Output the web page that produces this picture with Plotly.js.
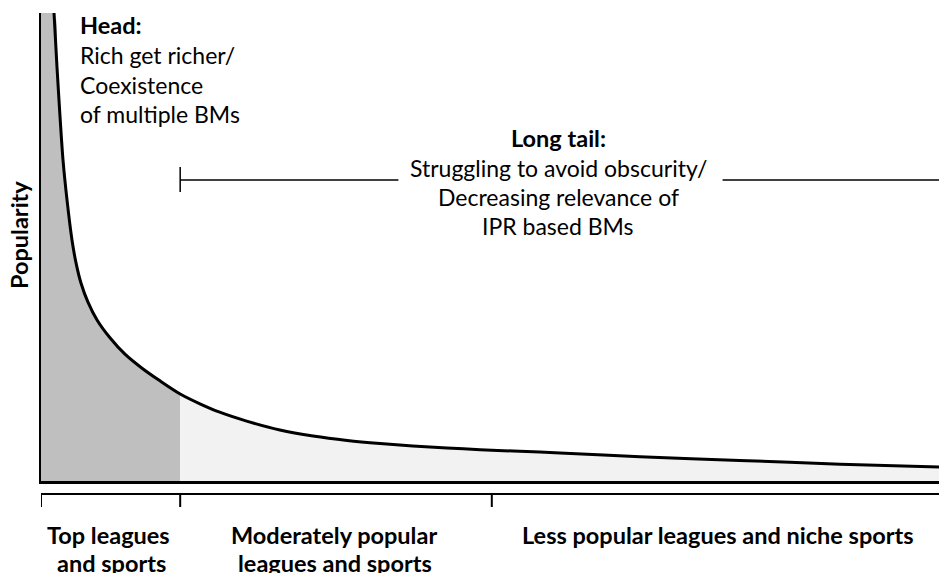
<!DOCTYPE html>
<html><head><meta charset="utf-8">
<script src="https://cdn.plot.ly/plotly-3.0.1.min.js"></script>
<style>html,body{margin:0;padding:0;background:#fff;}#chart{width:939px;height:573px;}</style>
</head><body><div id="chart"></div>
<script>
// Long-tail popularity curve: share of leagues/sports ranked (x, 0-100) vs popularity (y, 0-100)
const rankX = [1.45, 1.78, 2.12, 2.45, 2.90, 3.45, 3.90, 4.45, 5.23, 6.24, 7.68, 9.35, 11.25, 13.25, 15.5, 17.7, 19.9, 22.9, 26.6, 30.3, 34.1, 37.75, 41.4, 45.2, 48.9, 52.6, 57.8, 66.7, 77.8, 89.0, 100];
const popularityY = [100, 88.5, 77.8, 68.6, 60.0, 51.5, 46.6, 42.3, 38.2, 34.4, 30.6, 27.1, 24.1, 21.4, 18.6, 16.5, 14.7, 12.8, 10.9, 9.6, 8.65, 8.0, 7.5, 7.05, 6.7, 6.4, 6.0, 5.2, 4.4, 3.6, 3.0];
const headEnd = 15.5;   // head / long tail boundary
const midEnd = 50.2;    // moderately popular / less popular boundary
const segmentLabels = [["Top leagues", "and sports"], ["Moderately popular", "leagues and sports"], ["Less popular leagues and niche sports"]];
const headText = ["Head:", "Rich get richer/", "Coexistence", "of multiple BMs"];
const tailText = ["Long tail:", "Struggling to avoid obscurity/", "Decreasing relevance of", "IPR based BMs"];
const yTitle = "Popularity";

const FONT = "Lato, 'Open Sans', sans-serif";
const FS = 23;
const FSB = 23.5;

// split into head and tail parts
const headX = [0], headY = [popularityY[0]];
const tailX = [], tailY = [];
rankX.forEach((x, i) => {
  if (x <= headEnd) { headX.push(x); headY.push(popularityY[i]); }
  if (x >= headEnd) { tailX.push(x); tailY.push(popularityY[i]); }
});

const traces = [
  {x: headX, y: headY, type: 'scatter', mode: 'lines', fill: 'tozeroy', fillcolor: '#bfbfbf',
   line: {width: 0, shape: 'spline', smoothing: 0.8, color: 'rgba(0,0,0,0)'}, hoverinfo: 'skip'},
  {x: tailX, y: tailY, type: 'scatter', mode: 'lines', fill: 'tozeroy', fillcolor: '#f2f2f2',
   line: {width: 0, shape: 'spline', smoothing: 0.8, color: 'rgba(0,0,0,0)'}, hoverinfo: 'skip'},
  {x: rankX, y: popularityY, type: 'scatter', mode: 'lines',
   line: {width: 3, color: '#000', shape: 'spline', smoothing: 0.8}, hoverinfo: 'skip'}
];

// pixel helpers (plot area: x 41..939, y 13..481)
const L = 41, R = 939, T = 13, B = 481;
const px = v => (v - L) / (R - L);
const py = v => (B - v) / (B - T);

const ann = [];
function addText(text, x, y, bold, opts) {
  ann.push(Object.assign({text: bold ? '<b>' + text + '</b>' : text, xref: 'paper', yref: 'paper', x: px(x), y: py(y),
    showarrow: false, xanchor: 'center', yanchor: 'middle',
    font: {family: FONT, size: bold ? FSB : FS, color: '#000'}}, opts || {}));
}
// Head block
const headYs = [25, 55, 85, 114];
headText.forEach((t, i) => addText(t, 78, headYs[i], i === 0, {xanchor: 'left'}));
// Long tail block
const tailYs = [138, 168, 197, 226];
tailText.forEach((t, i) => addText(t, 558, tailYs[i], i === 0));
// Segment labels
const segCx = [[108, 111], [334, 335], [718]];
const segYs = [535, 563];
segmentLabels.forEach((lines, j) => lines.forEach((t, i) => addText(t, segCx[j][i], segYs[i], true)));
// Y title
addText(yTitle, 19, 235, true, {textangle: -90});

const shapes = [];
const ln = (x0, y0, x1, y1, w) => shapes.push({type: 'line', xref: 'x', yref: 'paper',
  x0: x0, x1: x1, y0: py(y0), y1: py(y1), line: {color: '#000', width: w}});
// bottom bracket
ln(0, 494, 100, 494, 2);
[0, headEnd, midEnd].forEach(v => ln(v, 494, v, 507, 2));
// long tail bracket
ln(headEnd, 180, 39.8, 180, 1.5);
ln(75.9, 180, 100, 180, 1.5);
ln(headEnd, 167, headEnd, 192, 1.5);

const layout = {
  width: 939, height: 573,
  margin: {l: L, r: 939 - R, t: T, b: 573 - B},
  paper_bgcolor: '#fff', plot_bgcolor: '#fff',
  showlegend: false,
  xaxis: {range: [0, 100], showgrid: false, zeroline: false, showticklabels: false, ticks: '',
    showline: true, linecolor: '#000', linewidth: 2.5, fixedrange: true},
  yaxis: {range: [0, 100], showgrid: false, zeroline: false, showticklabels: false, ticks: '',
    showline: true, linecolor: '#000', linewidth: 2.5, fixedrange: true},
  annotations: ann,
  shapes: shapes
};
Plotly.newPlot('chart', traces, layout, {displayModeBar: false, staticPlot: true});
</script>
</body></html>
